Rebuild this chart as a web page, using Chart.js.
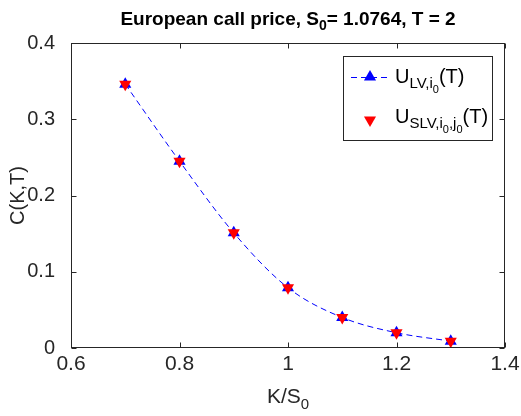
<!DOCTYPE html>
<html>
<head>
<meta charset="utf-8">
<script src="https://cdn.jsdelivr.net/npm/chart.js@4.4.0/dist/chart.umd.min.js"></script>
<style>
html,body{margin:0;padding:0;background:#fff;}
#wrap{width:521px;height:416px;position:relative;}
</style>
</head>
<body>
<div id="wrap"><canvas id="c" width="521" height="416"></canvas></div>
<script>
// ---- data ----
const strikes = [0.7, 0.8, 0.9, 1.0, 1.1, 1.2, 1.3];          // K/S0
const priceLV  = [0.346, 0.245, 0.151, 0.079, 0.040, 0.020, 0.009];
const priceSLV = [0.346, 0.245, 0.151, 0.079, 0.040, 0.020, 0.009];
const xTicks = [0.6, 0.8, 1.0, 1.2, 1.4];
const yTicks = [0, 0.1, 0.2, 0.3, 0.4];

const FONT = '"Liberation Sans", Arial, Helvetica, sans-serif';
const AX = '#262626';

function pts(xs, ys){ return xs.map((x,i)=>({x:x, y:ys[i]})); }

function drawParts(ctx, parts, x, y, bold, align){
  let total = 0;
  parts.forEach(p=>{ ctx.font = (bold?'bold ':'') + p.size + 'px ' + FONT; total += ctx.measureText(p.t).width; });
  let cx = align === 'center' ? x - total/2 : x;
  ctx.textAlign = 'left';
  ctx.textBaseline = 'alphabetic';
  parts.forEach(p=>{
    ctx.font = (bold?'bold ':'') + p.size + 'px ' + FONT;
    ctx.fillText(p.t, cx, y + (p.dy||0));
    cx += ctx.measureText(p.t).width;
  });
}

function triangle(ctx, x, y, r, down, color){
  ctx.save();
  ctx.fillStyle = color;
  ctx.beginPath();
  const s = down ? -1 : 1;
  ctx.moveTo(x, y - s*r);
  ctx.lineTo(x + r*0.866, y + s*r*0.5);
  ctx.lineTo(x - r*0.866, y + s*r*0.5);
  ctx.closePath();
  ctx.fill();
  ctx.restore();
}

const decor = {
  id: 'decor',
  afterDraw(chart){
    const ctx = chart.ctx;
    const a = chart.chartArea;
    const xs = chart.scales.x, ys = chart.scales.y;
    ctx.save();
    ctx.strokeStyle = AX;
    ctx.lineWidth = 1;
    const L = Math.round(a.left)+0.5, R = Math.round(a.right)-0.5, T = Math.round(a.top)+0.5, B = Math.round(a.bottom)-0.5;
    ctx.strokeRect(L, T, R-L, B-T);
    const tl = 5;
    ctx.beginPath();
    xTicks.forEach(v=>{
      const px = Math.round(xs.getPixelForValue(v))+0.5;
      ctx.moveTo(px, B); ctx.lineTo(px, B-tl);
      ctx.moveTo(px, T); ctx.lineTo(px, T+tl);
    });
    yTicks.forEach(v=>{
      const py = Math.round(ys.getPixelForValue(v))+0.5;
      ctx.moveTo(L, py); ctx.lineTo(L+tl, py);
      ctx.moveTo(R, py); ctx.lineTo(R-tl, py);
    });
    ctx.stroke();

    // title
    ctx.fillStyle = '#000';
    const cxm = (a.left + a.right)/2;
    drawParts(ctx, [
      {t:'European call price, S', size:19},
      {t:'0', size:14, dy:5},
      {t:'= 1.0764, T = 2', size:19}
    ], cxm, 25, true, 'center');

    // x label
    ctx.fillStyle = AX;
    drawParts(ctx, [
      {t:'K/S', size:21},
      {t:'0', size:15, dy:6}
    ], cxm, 403, false, 'center');

    // y label
    ctx.save();
    ctx.translate(24, (a.top + a.bottom)/2);
    ctx.rotate(-Math.PI/2);
    ctx.font = '20px ' + FONT;
    ctx.textAlign = 'center';
    ctx.textBaseline = 'alphabetic';
    ctx.fillText('C(K,T)', 0, 0);
    ctx.restore();

    // legend
    const lx = 343.5, ly = 56.5, lw = 149, lh = 84;
    ctx.fillStyle = '#fff';
    ctx.fillRect(lx, ly, lw, lh);
    ctx.strokeStyle = AX;
    ctx.strokeRect(lx, ly, lw, lh);
    ctx.save();
    ctx.strokeStyle = '#0000ff';
    ctx.setLineDash([6,4]);
    ctx.beginPath();
    ctx.moveTo(351, 77.5); ctx.lineTo(391, 77.5);
    ctx.stroke();
    ctx.restore();
    triangle(ctx, 370, 77, 7, false, '#0000ff');
    ctx.fillStyle = '#000';
    drawParts(ctx, [
      {t:'U', size:20},
      {t:'LV,i', size:15, dy:5},
      {t:'0', size:11, dy:10},
      {t:'(T)', size:20}
    ], 395, 83, false, 'left');
    triangle(ctx, 370, 120, 7, true, '#ff0000');
    drawParts(ctx, [
      {t:'U', size:20},
      {t:'SLV,i', size:15, dy:5},
      {t:'0', size:11, dy:10},
      {t:',j', size:15, dy:5},
      {t:'0', size:11, dy:10},
      {t:'(T)', size:20}
    ], 395, 123, false, 'left');
    ctx.restore();
  }
};

new Chart(document.getElementById('c'), {
  type: 'scatter',
  data: {
    datasets: [
      {
        label: 'U_SLV',
        data: pts(strikes, priceSLV),
        showLine: false,
        pointStyle: 'triangle',
        rotation: 180,
        pointRadius: 7,
        pointBackgroundColor: '#ff0000',
        pointBorderColor: '#ff0000',
        pointBorderWidth: 0,
        order: 0
      },
      {
        label: 'U_LV',
        data: pts(strikes, priceLV),
        showLine: true,
        borderColor: '#0000ff',
        borderWidth: 1,
        borderDash: [6,4],
        cubicInterpolationMode: 'monotone',
        pointStyle: 'triangle',
        pointRadius: 7,
        pointBackgroundColor: '#0000ff',
        pointBorderColor: '#0000ff',
        pointBorderWidth: 0,
        order: 1
      }
    ]
  },
  options: {
    responsive: false,
    animation: false,
    layout: { padding: { top: 43, right: 16, left: 0, bottom: 0 } },
    plugins: { legend: { display: false }, title: { display: false }, tooltip: { enabled: false } },
    scales: {
      x: {
        type: 'linear', min: 0.6, max: 1.4,
        afterFit(s){ s.height = 68; },
        afterBuildTicks(s){ s.ticks = xTicks.map(v=>({value:v})); },
        grid: { display: false },
        border: { display: false },
        ticks: {
          padding: -4,
          color: AX,
          font: { family: FONT, size: 21 },
          callback: v => String(+v.toFixed(1))
        }
      },
      y: {
        type: 'linear', min: 0, max: 0.4,
        afterFit(s){ s.width = 71; },
        afterBuildTicks(s){ s.ticks = yTicks.map(v=>({value:v})); },
        grid: { display: false },
        border: { display: false },
        ticks: {
          padding: 8,
          color: AX,
          font: { family: FONT, size: 20 },
          callback: v => String(+v.toFixed(1))
        }
      }
    }
  },
  plugins: [decor]
});
</script>
</body>
</html>
